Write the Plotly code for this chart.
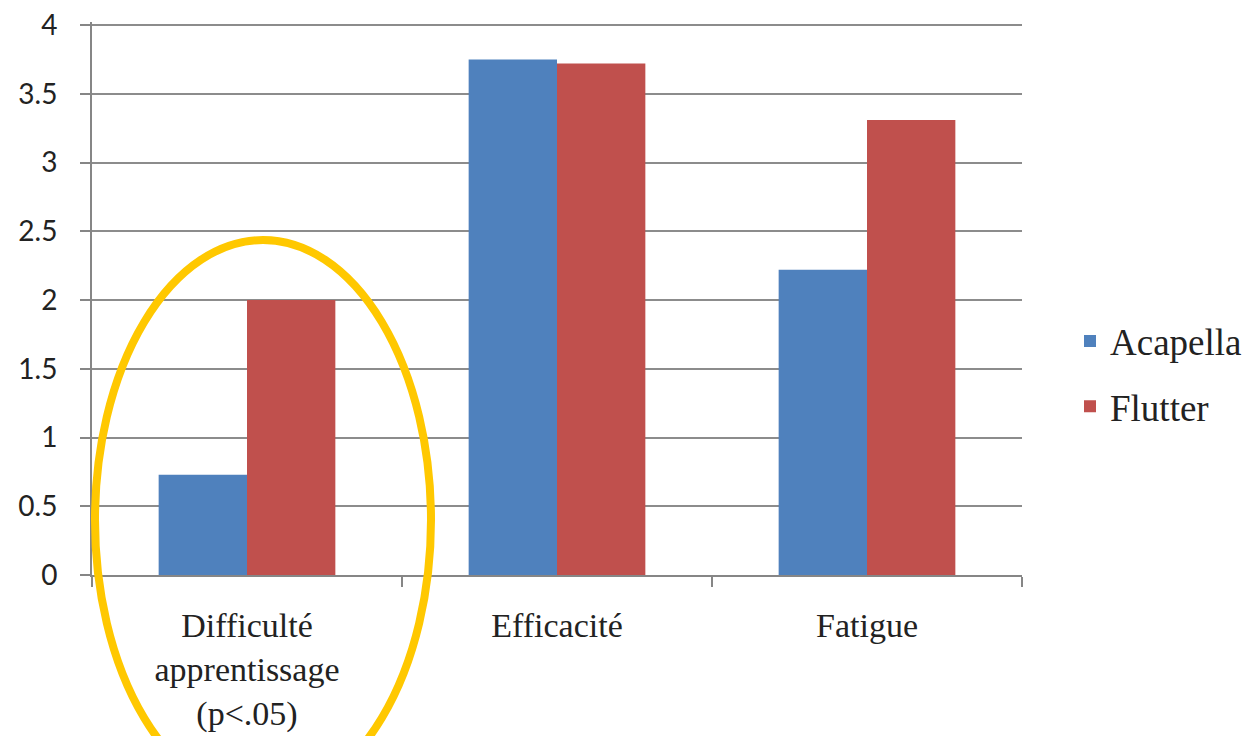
import plotly.graph_objects as go

categories = ["Difficulté apprentissage (p<.05)", "Efficacité", "Fatigue"]
tick_labels = ["Difficulté<br>apprentissage<br>(p&lt;.05)", "Efficacité", "Fatigue"]
acapella = [0.73, 3.75, 2.22]
flutter = [2.0, 3.72, 3.31]
y_ticks = [0, 0.5, 1, 1.5, 2, 2.5, 3, 3.5, 4]
y_tick_labels = ["0", "0.5", "1", "1.5", "2", "2.5", "3", "3.5", "4"]

# page body has an 8px margin; size the figure so it fits the 1251x736 window
OFF = 8
W, H = 1251 - OFF, 736 - OFF
L, T = 92 - OFF, 22 - OFF
R = W - (1022 - OFF)
B = H - (575 - OFF)
Y_MAX = 4.022

fig = go.Figure()
fig.add_trace(go.Bar(name="Acapella", x=categories, y=acapella,
                     marker=dict(color="#4F81BD", line=dict(width=0)), legendgroup="a"))
fig.add_trace(go.Bar(name="Flutter", x=categories, y=flutter,
                     marker=dict(color="#C0504D", line=dict(width=0)), legendgroup="b"))

pw = W - L - R
ph = H - T - B
def px2paper_x(px):
    return (px - OFF - L) / pw
def px2paper_y(py):
    return (H - B - (py - OFF)) / ph

fig.add_shape(type="circle", xref="paper", yref="paper",
              x0=px2paper_x(95), x1=px2paper_x(431),
              y0=px2paper_y(240), y1=px2paper_y(800),
              line=dict(color="#FFC800", width=8), layer="above")

fig.update_layout(
    width=W, height=H,
    margin=dict(l=L, r=R, t=T, b=B, pad=0, autoexpand=False),
    paper_bgcolor="white", plot_bgcolor="white",
    barmode="group", bargap=0.43, bargroupgap=0,
    font=dict(family="Liberation Serif", color="#222222"),
    legend=dict(x=px2paper_x(1070), y=px2paper_y(374), xanchor="left", yanchor="middle",
                font=dict(family="Liberation Serif", size=37, color="#222222"),
                tracegroupgap=14, itemwidth=30, bgcolor="rgba(0,0,0,0)"),
    showlegend=True,
)
fig.update_xaxes(
    tickmode="array", tickvals=categories, ticktext=tick_labels,
    tickfont=dict(family="Liberation Serif", size=34, color="#222222"),
    showline=True, linecolor="#868686", linewidth=2,
    ticks="outside", tickson="boundaries", ticklen=10, tickwidth=2, tickcolor="#868686",
    ticklabelstandoff=19, showgrid=False, automargin=False,
)
fig.update_yaxes(
    range=[0, Y_MAX], tickmode="array", tickvals=y_ticks, ticktext=y_tick_labels,
    tickfont=dict(family="Lato", size=28, color="#222222"),
    showline=True, linecolor="#868686", linewidth=2,
    ticks="outside", ticklen=10, tickwidth=2, tickcolor="#868686",
    showgrid=True, gridcolor="#8C8C8C", gridwidth=2, zeroline=False,
    ticklabelstandoff=17, ticklabeloverflow="allow", automargin=False,
)

fig.write_html("out.html")
